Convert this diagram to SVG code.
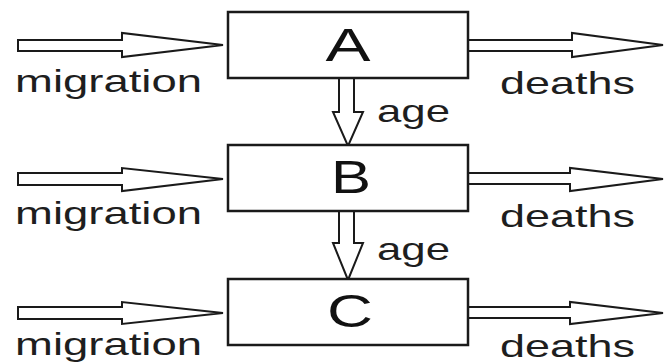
<svg xmlns="http://www.w3.org/2000/svg" width="665" height="364" viewBox="0 0 665 364">
<style>
.arrow{fill:#fff;stroke:#1a1a1a;stroke-width:2;stroke-linejoin:miter}
.box{fill:#fff;stroke:#1a1a1a;stroke-width:2.5}
.lbl{font-family:"Liberation Sans",Arial,sans-serif;font-size:32px;fill:#1e1e1e}
.big{font-family:"Liberation Sans",Arial,sans-serif;font-size:46px;fill:#111;text-anchor:middle}
</style>
<rect width="665" height="364" fill="#fff"/>
<g id="connectors">
<polygon class="arrow" points="18,40 122,40 122,33 223,45 122,57 122,51 18,51"/>
<polygon class="arrow" points="468,40 572,40 572,33 663,45 572,57 572,51 468,51"/>
<polygon class="arrow" points="339,78 354,78 354,112 363,112 348,146 333,112 339,112"/>
<polygon class="arrow" points="18,173 122,173 122,168 223,179 122,191 122,185 18,185"/>
<polygon class="arrow" points="468,173 570,173 570,168 663,179 570,191 570,184 468,184"/>
<polygon class="arrow" points="339,211 354,211 354,243 363,243 348,280 333,243 339,243"/>
<polygon class="arrow" points="18,307 122,307 122,302 223,313 122,324 122,319 18,319"/>
<polygon class="arrow" points="468,307 570,307 570,302 663,313 570,324 570,318 468,318"/>
</g>
<g id="nodeA">
<rect class="box" x="228" y="12" width="240" height="66"/>
<text class="big" x="348" y="61" textLength="45" lengthAdjust="spacingAndGlyphs">A</text>
</g>
<g id="nodeB">
<rect class="box" x="228" y="145" width="240" height="66"/>
<text class="big" x="351" y="193" textLength="40" lengthAdjust="spacingAndGlyphs">B</text>
</g>
<g id="nodeC">
<rect class="box" x="228" y="279" width="240" height="66"/>
<text class="big" x="350" y="327" textLength="46" lengthAdjust="spacingAndGlyphs">C</text>
</g>
<g id="labels">
<text class="lbl" x="15" y="92" textLength="187" lengthAdjust="spacingAndGlyphs">migration</text>
<text class="lbl" x="500" y="94" textLength="135" lengthAdjust="spacingAndGlyphs">deaths</text>
<text class="lbl" x="377" y="122" textLength="73" lengthAdjust="spacingAndGlyphs">age</text>
<text class="lbl" x="15" y="224" textLength="187" lengthAdjust="spacingAndGlyphs">migration</text>
<text class="lbl" x="500" y="227" textLength="135" lengthAdjust="spacingAndGlyphs">deaths</text>
<text class="lbl" x="377" y="260" textLength="73" lengthAdjust="spacingAndGlyphs">age</text>
<text class="lbl" x="15" y="355" textLength="187" lengthAdjust="spacingAndGlyphs">migration</text>
<text class="lbl" x="500" y="357" textLength="135" lengthAdjust="spacingAndGlyphs">deaths</text>
</g>
</svg>
